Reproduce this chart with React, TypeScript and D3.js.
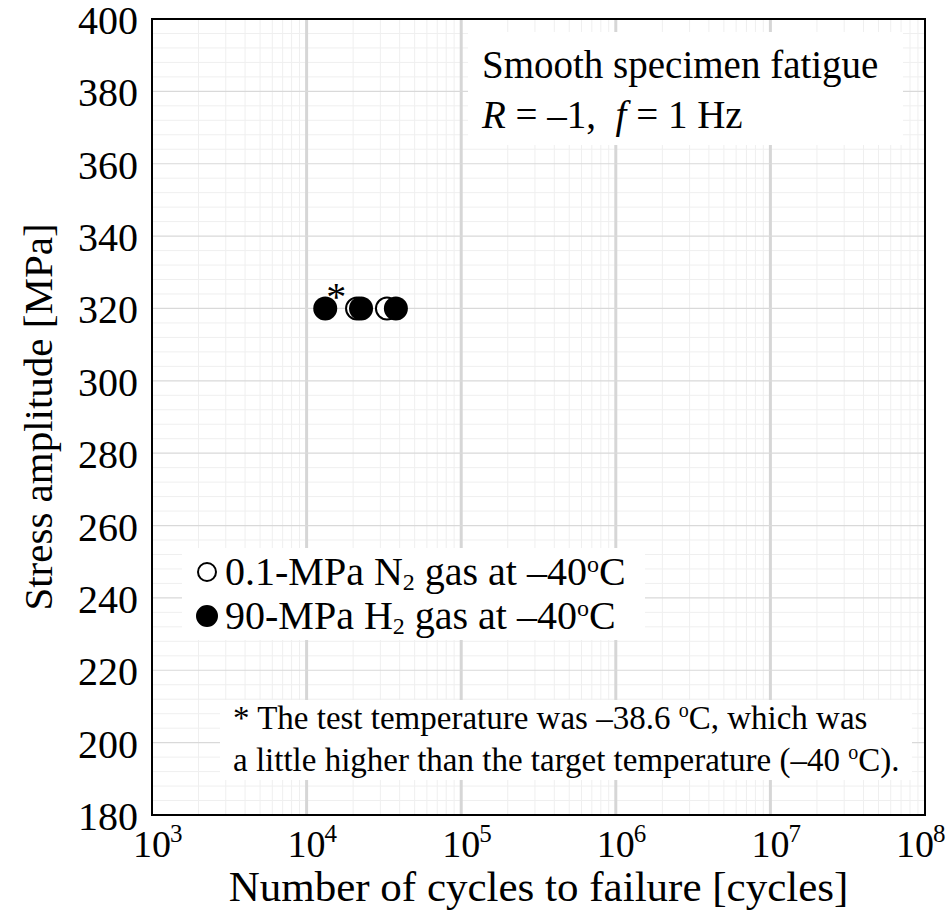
import React, { useRef, useEffect } from "react";
import * as d3 from "d3";

// stress amplitude ticks [MPa]
const yTicks = [180, 200, 220, 240, 260, 280, 300, 320, 340, 360, 380, 400];
// decades on the cycles axis
const xExponents = [3, 4, 5, 6, 7, 8];

// 0.1-MPa N2 gas at -40 C (open)
const n2Cycles = [21200, 33100];
const n2Stress = [320, 320];

// 90-MPa H2 gas at -40 C (filled)
const h2Cycles = [13200, 22500, 37800];
const h2Stress = [320, 320, 320];
// the H2 test run at -38.6 C
const starredIndex = 0;

const FONT = "'Liberation Serif', 'Times New Roman', serif";

export default function App() {
    const ref = useRef<SVGSVGElement>(null);

    useEffect(() => {
        document.body.style.margin = "0";
        const width = 951, height = 915;
        const margin = { top: 19, right: 26, bottom: 100, left: 152 };

        const svg = d3.select(ref.current);
        svg.selectAll("*").remove();
        svg.attr("width", width).attr("height", height);

        const x = d3.scaleLog()
            .domain([1e3, 1e8])
            .range([margin.left, width - margin.right]);

        const y = d3.scaleLinear()
            .domain([180, 400])
            .range([height - margin.bottom, margin.top]);

        const [x0, x1] = x.range();
        const [y0, y1] = y.range();

        svg.append("rect").attr("width", width).attr("height", height).attr("fill", "white");

        // minor grid
        const minorX: number[] = [];
        xExponents.slice(0, -1).forEach(e => {
            for (let k = 2; k <= 9; k++) minorX.push(k * Math.pow(10, e));
        });
        const minorY = d3.range(184, 400, 4).filter(v => v % 20 !== 0);

        const grid = svg.append("g");
        grid.selectAll(".mx").data(minorX).enter().append("line")
            .attr("x1", d => x(d)).attr("x2", d => x(d))
            .attr("y1", y1).attr("y2", y0)
            .attr("stroke", "#efefef").attr("stroke-width", 1);
        grid.selectAll(".my").data(minorY).enter().append("line")
            .attr("x1", x0).attr("x2", x1)
            .attr("y1", d => y(d)).attr("y2", d => y(d))
            .attr("stroke", "#efefef").attr("stroke-width", 1);
        grid.selectAll(".Mx").data(xExponents.slice(1, -1)).enter().append("line")
            .attr("x1", d => x(Math.pow(10, d))).attr("x2", d => x(Math.pow(10, d)))
            .attr("y1", y1).attr("y2", y0)
            .attr("stroke", "#d6d6d6").attr("stroke-width", 3);
        grid.selectAll(".My").data(yTicks.slice(1, -1)).enter().append("line")
            .attr("x1", x0).attr("x2", x1)
            .attr("y1", d => y(d)).attr("y2", d => y(d))
            .attr("stroke", "#d9d9d9").attr("stroke-width", 1.2);

        // white boxes behind the texts
        const boxes = [
            { x: 468, y: 32, w: 435, h: 113 },
            { x: 182, y: 548, w: 463, h: 92 },
            { x: 220, y: 700, w: 692, h: 80 },
        ];
        svg.selectAll(".box").data(boxes).enter().append("rect")
            .attr("x", d => d.x).attr("y", d => d.y)
            .attr("width", d => d.w).attr("height", d => d.h)
            .attr("fill", "white");

        // frame
        svg.append("rect")
            .attr("x", x0).attr("y", y1)
            .attr("width", x1 - x0).attr("height", y0 - y1)
            .attr("fill", "none").attr("stroke", "black").attr("stroke-width", 2);

        // y tick labels
        svg.selectAll(".yt").data(yTicks).enter().append("text")
            .attr("x", x0 - 14).attr("y", d => y(d) + 15)
            .attr("text-anchor", "end")
            .attr("font-family", FONT).attr("font-size", 40)
            .text(d => d);

        // x tick labels 10^e (the last one pulled in to stay on the page)
        const xt = svg.selectAll(".xt").data(xExponents).enter().append("g")
            .attr("transform", d => {
                const px = x(Math.pow(10, d));
                return `translate(${Math.min(px, width - 36)},${y0 + 42})`;
            });
        xt.append("text")
            .attr("text-anchor", "middle")
            .attr("font-family", FONT).attr("font-size", 38)
            .text("10");
        xt.append("text")
            .attr("x", 18).attr("y", -15)
            .attr("font-family", FONT).attr("font-size", 25)
            .text(d => d);

        // axis titles
        svg.append("text")
            .attr("x", (x0 + x1) / 2).attr("y", 901)
            .attr("text-anchor", "middle")
            .attr("font-family", FONT).attr("font-size", 43)
            .text("Number of cycles to failure [cycles]");
        svg.append("text")
            .attr("transform", `translate(52,${(y0 + y1) / 2}) rotate(-90)`)
            .attr("text-anchor", "middle")
            .attr("font-family", FONT).attr("font-size", 41)
            .text("Stress amplitude [MPa]");

        // data points: N2 first, H2 on top
        const n2 = n2Cycles.map((c, i) => ({ c, s: n2Stress[i] }));
        const h2 = h2Cycles.map((c, i) => ({ c, s: h2Stress[i] }));
        svg.selectAll(".n2").data(n2).enter().append("circle")
            .attr("cx", d => x(d.c)).attr("cy", d => y(d.s)).attr("r", 11)
            .attr("fill", "white").attr("stroke", "black").attr("stroke-width", 2);
        svg.selectAll(".h2").data(h2).enter().append("circle")
            .attr("cx", d => x(d.c)).attr("cy", d => y(d.s)).attr("r", 12)
            .attr("fill", "black");
        svg.append("text")
            .attr("x", x(h2[starredIndex].c) + 11).attr("y", y(h2[starredIndex].s) + 2)
            .attr("text-anchor", "middle")
            .attr("font-family", FONT).attr("font-size", 40)
            .text("*");

        // annotation
        const ann = svg.append("g").attr("font-family", FONT).attr("font-size", 39);
        ann.append("text").attr("x", 482).attr("y", 78).text("Smooth specimen fatigue");
        const l2 = ann.append("text").attr("x", 482).attr("y", 128);
        l2.append("tspan").attr("font-style", "italic").text("R");
        l2.append("tspan").text("\u00a0=\u00a0\u20131,\u00a0\u00a0");
        l2.append("tspan").attr("font-style", "italic").text("f");
        l2.append("tspan").text("\u00a0=\u00a01\u00a0Hz");

        // legend
        const leg = svg.append("g").attr("font-family", FONT).attr("font-size", 40);
        const legendRows = [
            { y: 572, fill: "white", gas: "N", pre: "0.1-MPa " },
            { y: 616, fill: "black", gas: "H", pre: "90-MPa " },
        ];
        legendRows.forEach(r => {
            leg.append("circle").attr("cx", 207).attr("cy", r.y)
                .attr("r", r.fill === "white" ? 9 : 10)
                .attr("fill", r.fill).attr("stroke", "black").attr("stroke-width", 2);
            const t = leg.append("text").attr("x", 225).attr("y", r.y + 13);
            t.append("tspan").text(r.pre + r.gas);
            t.append("tspan").attr("font-size", 24).attr("dy", 5).text("2");
            t.append("tspan").attr("dy", -5).text(" gas at \u201340");
            t.append("tspan").attr("font-size", 24).attr("dy", -13).text("o");
            t.append("tspan").attr("dy", 13).text("C");
        });

        // footnote
        const fn = svg.append("g").attr("font-family", FONT).attr("font-size", 33);
        const f1 = fn.append("text").attr("x", 233).attr("y", 729);
        f1.append("tspan").text("* The test temperature was \u201338.6 ");
        f1.append("tspan").attr("font-size", 20).attr("dy", -12).text("o");
        f1.append("tspan").attr("dy", 12).text("C, which was");
        const f2 = fn.append("text").attr("x", 233).attr("y", 771);
        f2.append("tspan").text("a little higher than the target temperature (\u201340 ");
        f2.append("tspan").attr("font-size", 20).attr("dy", -12).text("o");
        f2.append("tspan").attr("dy", 12).text("C).");
    }, []);

    return <svg ref={ref} style={{ display: "block" }}></svg>;
}
